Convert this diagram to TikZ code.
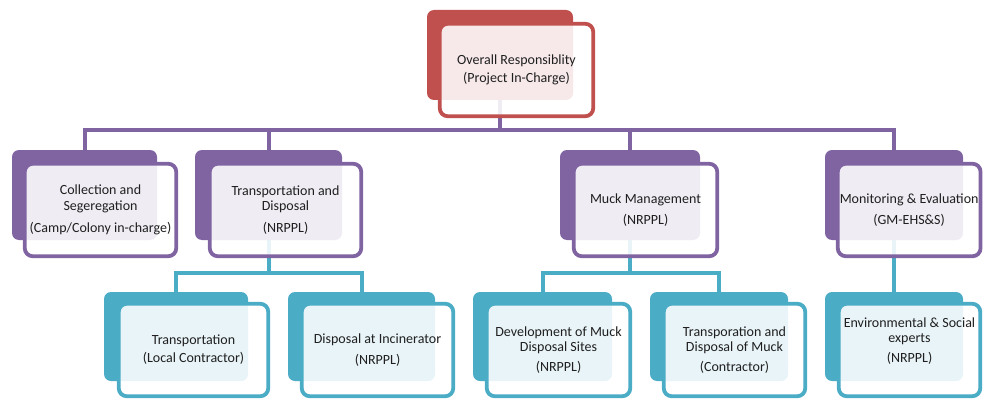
\documentclass[tikz,border=0pt]{standalone}
\usepackage{fontspec}
\setmainfont{Carlito}
\definecolor{cred}{HTML}{C0504D}
\definecolor{cpurple}{HTML}{8064A2}
\definecolor{cteal}{HTML}{4BACC6}
\begin{document}
\begin{tikzpicture}[x=1pt,y=-1pt,
  back/.style={anchor=north west, rounded corners=7pt, inner sep=0pt, outer sep=0pt, minimum height=90pt},
  front/.style={anchor=north west, rounded corners=8pt, line width=3.8pt, fill=white, fill opacity=0.88, text opacity=1, inner sep=2pt, outer sep=0pt, align=center, minimum height=92.5pt, font=\fontsize{14}{15.5}\selectfont, text=black!88},
  conn/.style={line width=4pt, line join=miter}]
\useasboundingbox (0,0) rectangle (1008,401);
% back boxes
\node[back, fill=cred, minimum width=146pt] (topB) at (427,10) {};
\node[back, fill=cpurple, minimum width=145pt] (c1B) at (12,150) {};
\node[back, fill=cpurple, minimum width=147pt] (c2B) at (195,150) {};
\node[back, fill=cpurple, minimum width=140pt] (c3B) at (560,150) {};
\node[back, fill=cpurple, minimum width=138pt] (c4B) at (825,150) {};
\node[back, fill=cteal, minimum width=144pt, minimum height=89pt] (t1B) at (104,292) {};
\node[back, fill=cteal, minimum width=147pt, minimum height=89pt] (t2B) at (288,292) {};
\node[back, fill=cteal, minimum width=139pt, minimum height=89pt] (t3B) at (473,292) {};
\node[back, fill=cteal, minimum width=138pt, minimum height=89pt] (t4B) at (650,292) {};
\node[back, fill=cteal, minimum width=138pt, minimum height=89pt] (t5B) at (825,292) {};
% connectors
\coordinate (pbus) at (0,130);
\coordinate (tbus) at (0,273);
\draw[conn, cpurple] (topB.south) -- (topB.south |- pbus);
\draw[conn, cpurple] (c1B.north) -- (c1B.north |- pbus) -- (c4B.north |- pbus) -- (c4B.north);
\draw[conn, cpurple] (c2B.north) -- (c2B.north |- pbus);
\draw[conn, cpurple] (c3B.north) -- (c3B.north |- pbus);
\draw[conn, cteal] (c2B.south) -- (c2B.south |- tbus);
\draw[conn, cteal] (t1B.north) -- (t1B.north |- tbus) -- (t2B.north |- tbus) -- (t2B.north);
\draw[conn, cteal] (c3B.south) -- (c3B.south |- tbus);
\draw[conn, cteal] (t3B.north) -- (t3B.north |- tbus) -- (t4B.north |- tbus) -- (t4B.north);
\draw[conn, cteal] (c4B.south) -- (t5B.north);
% front boxes
\node[front, draw=cred, minimum width=153.5pt] (top) at (439.75,23.75)
  {Overall Responsiblity\\[2.5pt](Project In-Charge)};
\node[front, draw=cpurple, minimum width=151.5pt] (c1) at (24.75,163.75)
  {Collection and\\Segeregation\\[6.5pt](Camp/Colony in-charge)};
\node[front, draw=cpurple, minimum width=151.5pt] (c2) at (209.75,163.75)
  {Transportation and\\Disposal\\[6.5pt](NRPPL)};
\node[front, draw=cpurple, minimum width=143.5pt] (c3) at (573.75,163.75)
  {Muck Management\\[5.5pt](NRPPL)};
\node[front, draw=cpurple, minimum width=142.5pt] (c4) at (837.75,163.75)
  {Monitoring \& Evaluation\\[5.5pt](GM-EHS\&S)};
\node[front, draw=cteal, minimum width=149.5pt] (t1) at (118.75,303.75)
  {Transportation\\[2.5pt](Local Contractor)};
\node[front, draw=cteal, minimum width=151.5pt] (t2) at (301.75,303.75)
  {Disposal at Incinerator\\[5.5pt](NRPPL)};
\node[front, draw=cteal, minimum width=143.5pt] (t3) at (486.75,303.75)
  {Development of Muck\\Disposal Sites\\[4.5pt](NRPPL)};
\node[front, draw=cteal, minimum width=141.5pt] (t4) at (663.75,303.75)
  {Transporation and\\Disposal of Muck\\[4.5pt](Contractor)};
\node[front, draw=cteal, minimum width=141.5pt] (t5) at (838.75,303.75)
  {Environmental \& Social\\experts\\[4.5pt](NRPPL)\\[4.5pt]\mbox{}};
\end{tikzpicture}
\end{document}
